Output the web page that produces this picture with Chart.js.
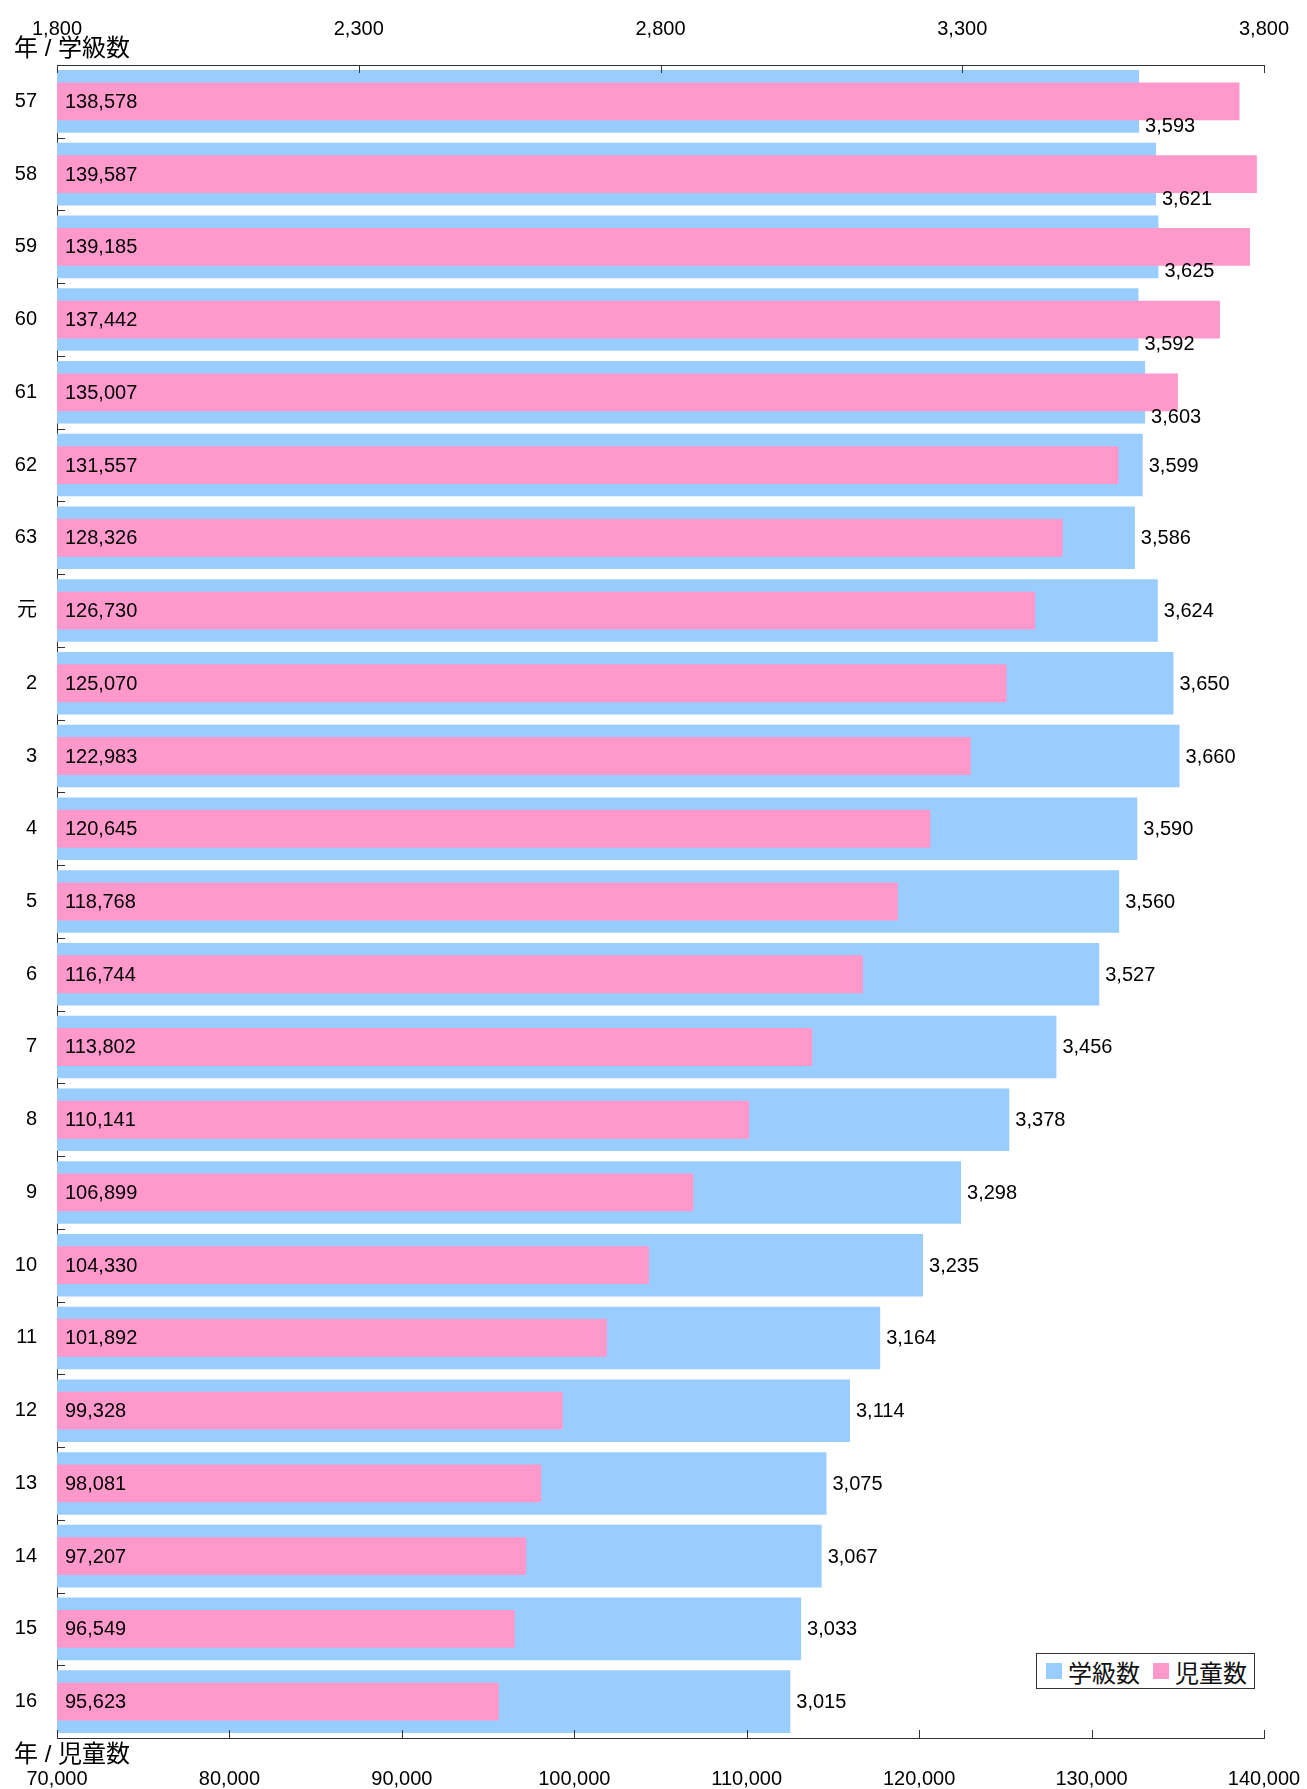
<!DOCTYPE html>
<html lang="ja">
<head>
<meta charset="utf-8">
<title>学級数・児童数の推移</title>
<script src="https://cdn.jsdelivr.net/npm/chart.js@4.4.0/dist/chart.umd.min.js"></script>
<style>
  html, body { margin: 0; padding: 0; background: #fff; }
  #wrap { position: relative; width: 1307px; height: 1789px; }
  #legend {
    position: absolute; left: 1036px; top: 1653px; width: 219px; height: 36px;
    border: 1px solid #333; background: #fff; white-space: nowrap;
    display: flex; align-items: center; padding-left: 9px; box-sizing: border-box;
    font: 24px 'Liberation Sans', 'Noto Sans CJK JP', sans-serif; color: #111;
  }
  #legend .item { display: flex; align-items: center; margin-right: 13px; flex-shrink: 0; }
  #legend .sw { width: 16px; height: 16px; margin-right: 6px; flex-shrink: 0; }
</style>
</head>
<body>
<div id="wrap">
  <canvas id="chart" width="1307" height="1789" style="width:1307px;height:1789px"></canvas>
  <div id="legend"></div>
</div>
<script>
// ── Data ────────────────────────────────────────────────────────
const years = ['57', '58', '59', '60', '61', '62', '63', '元', '2', '3', '4', '5',
               '6', '7', '8', '9', '10', '11', '12', '13', '14', '15', '16'];
const classCounts = [3593, 3621, 3625, 3592, 3603, 3599, 3586, 3624, 3650, 3660, 3590, 3560,
                     3527, 3456, 3378, 3298, 3235, 3164, 3114, 3075, 3067, 3033, 3015];
const pupilCounts = [138578, 139587, 139185, 137442, 135007, 131557, 128326, 126730, 125070, 122983, 120645, 118768,
                     116744, 113802, 110141, 106899, 104330, 101892, 99328, 98081, 97207, 96549, 95623];
const classTicks = [1800, 2300, 2800, 3300, 3800];
const pupilTicks = [70000, 80000, 90000, 100000, 110000, 120000, 130000, 140000];
const seriesNames = ['学級数', '児童数'];
const axisTitles = ['年 / 学級数', '年 / 児童数'];

const BLUE = '#99CCFF';
const PINK = '#FF99CC';
const AXIS = '#333';
const FONT = "'Liberation Sans', Arial, 'Noto Sans CJK JP', sans-serif";
const fmt = v => Number(v).toLocaleString('en-US');

// keep the plot box fixed, labels may hang over the edges
const fixX = h => s => { s.height = h; s.paddingLeft = 0; s.paddingRight = 0; };

// ── Ticks, value labels, axis titles ────────────────────────────
const decorations = {
  id: 'decorations',
  afterDatasetsDraw(chart) {
    const { ctx, chartArea: a, scales } = chart;
    ctx.save();
    ctx.strokeStyle = AXIS;
    ctx.lineWidth = 1;
    ctx.beginPath();
    scales.x2.ticks.forEach(t => {
      const px = Math.round(scales.x2.getPixelForValue(t.value)) + 0.5;
      ctx.moveTo(px, a.top); ctx.lineTo(px, a.top + 8);
    });
    scales.x.ticks.forEach(t => {
      const px = Math.round(scales.x.getPixelForValue(t.value)) + 0.5;
      ctx.moveTo(px, a.bottom); ctx.lineTo(px, a.bottom - 8);
    });
    const band = (a.bottom - a.top) / years.length;
    for (let i = 0; i <= years.length; i++) {
      const py = Math.round(scales.y.getPixelForValue(i) - band / 2) + 0.5;
      ctx.moveTo(a.left, py); ctx.lineTo(a.left + 8, py);
    }
    ctx.stroke();

    // value labels
    ctx.fillStyle = '#000';
    ctx.font = `20px ${FONT}`;
    ctx.textBaseline = 'middle';
    ctx.textAlign = 'left';
    const blue = chart.getDatasetMeta(0).data;
    const pink = chart.getDatasetMeta(1).data;
    const left = scales.x.getPixelForValue(scales.x.min);
    pink.forEach((bar, i) => ctx.fillText(fmt(pupilCounts[i]), left + 8, bar.y + 1));
    blue.forEach((bar, i) => {
      const below = pink[i].x > bar.x; // pink bar sticks out, put label underneath
      ctx.fillText(fmt(classCounts[i]), bar.x + 6, bar.y + (below ? 25 : 1));
    });
    ctx.restore();
  },
  afterDraw(chart) {
    const { ctx, chartArea: a } = chart;
    ctx.save();
    ctx.fillStyle = '#000';
    ctx.font = `24px ${FONT}`;
    ctx.textBaseline = 'middle';
    ctx.textAlign = 'left';
    ctx.fillText(axisTitles[0], 14, a.top - 16);
    ctx.fillText(axisTitles[1], 14, a.bottom + 17);
    ctx.restore();
  }
};

const chart = new Chart(document.getElementById('chart'), {
  type: 'bar',
  data: {
    labels: years,
    datasets: [
      {
        label: seriesNames[0],
        data: classCounts,
        xAxisID: 'x2',
        backgroundColor: BLUE,
        borderWidth: 0,
        grouped: false,
        barPercentage: 0.86,
        categoryPercentage: 1,
        order: 1,
      },
      {
        label: seriesNames[1],
        data: pupilCounts,
        xAxisID: 'x',
        backgroundColor: PINK,
        borderWidth: 0,
        grouped: false,
        barPercentage: 0.52,
        categoryPercentage: 1,
        order: 0,
      }
    ]
  },
  options: {
    indexAxis: 'y',
    responsive: false,
    animation: false,
    layout: { padding: { left: 0, right: 43, top: 0, bottom: 0 } },
    plugins: {
      legend: { display: false },
      tooltip: { enabled: false }
    },
    scales: {
      y: {
        type: 'category',
        afterFit: s => { s.width = 57; s.paddingTop = 0; s.paddingBottom = 0; },
        grid: { display: false, drawTicks: false },
        border: { display: true, color: AXIS, width: 1 },
        ticks: { color: '#000', font: { family: FONT, size: 20 }, padding: 20 }
      },
      x2: {
        type: 'linear',
        position: 'top',
        min: 1800,
        max: 3800,
        afterFit: fixX(65),
        afterBuildTicks: s => { s.ticks = classTicks.map(v => ({ value: v })); },
        grid: { drawOnChartArea: false, drawTicks: false },
        border: { display: true, color: AXIS, width: 1 },
        ticks: { color: '#000', font: { family: FONT, size: 20 }, padding: 24, maxRotation: 0, callback: v => fmt(v) }
      },
      x: {
        type: 'linear',
        position: 'bottom',
        min: 70000,
        max: 140000,
        afterFit: fixX(51),
        afterBuildTicks: s => { s.ticks = pupilTicks.map(v => ({ value: v })); },
        grid: { drawOnChartArea: false, drawTicks: false },
        border: { display: true, color: AXIS, width: 1 },
        ticks: { color: '#000', font: { family: FONT, size: 20 }, padding: 29, maxRotation: 0, callback: v => fmt(v) }
      }
    }
  },
  plugins: [decorations]
});

// ── Legend ──────────────────────────────────────────────────────
document.getElementById('legend').innerHTML = seriesNames.map((n, i) =>
  `<span class="item"><span class="sw" style="background:${[BLUE, PINK][i]}"></span>${n}</span>`
).join('');
</script>
</body>
</html>
